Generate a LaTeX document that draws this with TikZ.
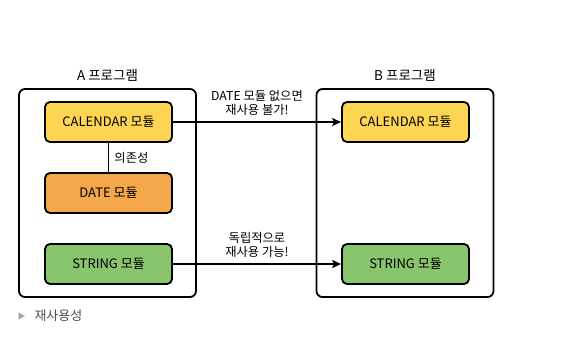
\documentclass[tikz,border=0pt]{standalone}
\usepackage{fontspec}
\setmainfont{Noto Sans CJK KR}
\usetikzlibrary{arrows.meta, positioning}

\definecolor{calyellow}{HTML}{FDD552}
\definecolor{dateorange}{HTML}{F4A84A}
\definecolor{strgreen}{HTML}{88C56C}

\begin{document}
\begin{tikzpicture}[x=1pt, y=-1pt,
    prog/.style={rectangle, draw=black, fill=white, line width=1.8pt, rounded corners=6pt, minimum width=177pt, minimum height=208pt},
    module/.style={rectangle, draw=black, line width=1.8pt, rounded corners=5pt, minimum width=127pt, minimum height=40pt, align=center, font=\fontsize{13}{15}\selectfont},
    title/.style={font=\fontsize{13.5}{15}\selectfont},
    note/.style={align=center, font=\fontsize{12.3}{13.5}\selectfont, inner sep=1pt},
    line/.style={draw=black, line width=1.3pt, -{Stealth[length=9pt, width=8pt, inset=2pt]}}
]
    \useasboundingbox (0,0) rectangle (563,338);

    % Program frames
    \node[prog] (progA) at (107.5,193) {};
    \node[prog] (progB) at (405,193) {};
    \node[title, above=3pt of progA] (titleA) {A 프로그램};
    \node[title, above=3pt of progB] (titleB) {B 프로그램};

    % Modules of A
    \node[module, fill=calyellow] (calA) at (108.5,122) {CALENDAR 모듈};
    \node[module, fill=dateorange] (dateA) at (108.5,193) {DATE 모듈};
    \node[module, fill=strgreen] (strA) at (108.5,264) {STRING 모듈};

    % Modules of B
    \node[module, fill=calyellow] (calB) at (405.5,122) {CALENDAR 모듈};
    \node[module, fill=strgreen] (strB) at (405.5,264) {STRING 모듈};

    % Dependency
    \draw[line width=1.3pt] (calA) -- (dateA) node[midway, right=2pt, font=\fontsize{12.3}{14}\selectfont] {의존성};

    % Reuse arrows
    \draw[line] (calA) -- (calB) node[note, midway, above=5pt] {DATE 모듈 없으면\\재사용 불가!};
    \draw[line] (strA) -- (strB) node[note, midway, above=5pt] {독립적으로\\재사용 가능!};

    % Caption
    \node[anchor=west, text=black!70, font=\fontsize{13}{15}\selectfont] (caption) at (14,316) {\raisebox{1pt}{\color{black!35}\fontsize{8}{9}\selectfont ▶}\hspace{9pt}재사용성};
\end{tikzpicture}
\end{document}
